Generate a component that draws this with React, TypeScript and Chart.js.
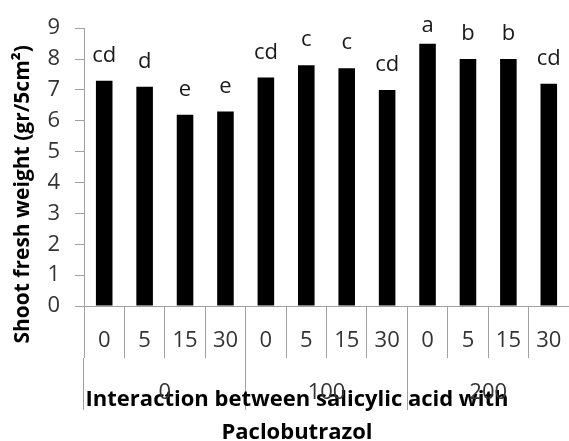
import React, { useEffect, useRef } from "react";
import { Chart, registerables } from "chart.js";

Chart.register(...registerables);

const categories = ["0", "5", "15", "30", "0", "5", "15", "30", "0", "5", "15", "30"];
const groupLabels = ["0", "100", "200"];
const values = [7.3, 7.1, 6.2, 6.3, 7.4, 7.8, 7.7, 7.0, 8.5, 8.0, 8.0, 7.2];
const letters = ["cd", "d", "e", "e", "cd", "c", "c", "cd", "a", "b", "b", "cd"];
const yMin = 0;
const yMax = 9;
const yStep = 1;
const yTitle = "Shoot fresh weight (gr/5cm\u00B2)";
const xTitle = ["Interaction between salicylic acid with", "Paclobutrazol"];

const FONT = "'Open Sans'";
const GRID = "#a0a0a0";

const letterPlugin = {
  id: "letters",
  afterDatasetsDraw(chart: any) {
    const meta = chart.getDatasetMeta(0);
    const ctx = chart.ctx;
    ctx.save();
    ctx.font = `22px ${FONT}`;
    ctx.fillStyle = "#1a1a1a";
    ctx.textAlign = "center";
    ctx.textBaseline = "alphabetic";
    meta.data.forEach((bar: any, i: number) => {
      const y = Math.max(bar.y - 19, chart.chartArea.top + 4);
      ctx.fillText(letters[i], bar.x, y);
    });
    ctx.restore();
  },
};

export default function App() {
  const ref = useRef<HTMLCanvasElement | null>(null);
  useEffect(() => {
    if (!ref.current) return;
    const pad = "\u00A0".repeat(10);
    const chart = new Chart(ref.current, {
      type: "bar",
      data: {
        labels: categories,
        datasets: [
          {
            data: values,
            backgroundColor: "#000000",
            barPercentage: 0.41,
            categoryPercentage: 1,
          },
        ],
      },
      plugins: [letterPlugin],
      options: {
        animation: false,
        responsive: false,
        layout: { padding: { left: 23, right: -2, top: 24, bottom: 0 } },
        plugins: {
          legend: { display: false },
          tooltip: { enabled: false },
          title: {
            display: true,
            position: "bottom",
            text: xTitle,
            color: "#000000",
            font: { family: FONT, size: 22, weight: "bold", lineHeight: 1.5 },
            padding: { top: -26.5, bottom: -8.5 },
          },
        },
        scales: {
          x: {
            type: "category",
            position: "bottom",
            offset: true,
            grid: {
              offset: true,
              drawOnChartArea: false,
              drawTicks: true,
              tickLength: 52,
              color: GRID,
            },
            border: { display: true, color: GRID, width: 1 },
            ticks: {
              color: "#333333",
              padding: -30,
              maxRotation: 0,
              autoSkip: false,
              font: { family: FONT, size: 22 },
            },
            afterFit: (s: any) => {
              s.height = 52;
            },
          },
          x2: {
            type: "category",
            position: "bottom",
            labels: groupLabels,
            offset: true,
            grid: {
              offset: true,
              drawOnChartArea: false,
              drawTicks: true,
              tickLength: 52,
              color: GRID,
            },
            border: { display: false },
            ticks: {
              color: "#333333",
              padding: -30,
              maxRotation: 0,
              autoSkip: false,
              font: { family: FONT, size: 22 },
            },
            afterFit: (s: any) => {
              s.height = 52;
            },
          },
          y: {
            min: yMin,
            max: yMax,
            ticks: {
              stepSize: yStep,
              color: "#333333",
              padding: 15,
              font: { family: FONT, size: 22 },
            },
            grid: {
              drawOnChartArea: false,
              drawTicks: true,
              tickLength: 9,
              color: GRID,
            },
            border: { display: true, color: GRID, width: 1 },
            title: {
              display: true,
              text: yTitle + pad,
              color: "#000000",
              font: { family: FONT, size: 21, weight: "bold", lineHeight: 1.2 },
              padding: { top: -13, bottom: 0 },
            },
            afterFit: (s: any) => {
              s.width = 61;
            },
          },
        },
      },
    } as any);
    return () => chart.destroy();
  }, []);
  return (
    <div style={{ position: "fixed", left: 0, top: 0, width: 569, height: 441, background: "#fff" }}>
      <canvas ref={ref} width={569} height={441} />
    </div>
  );
}
